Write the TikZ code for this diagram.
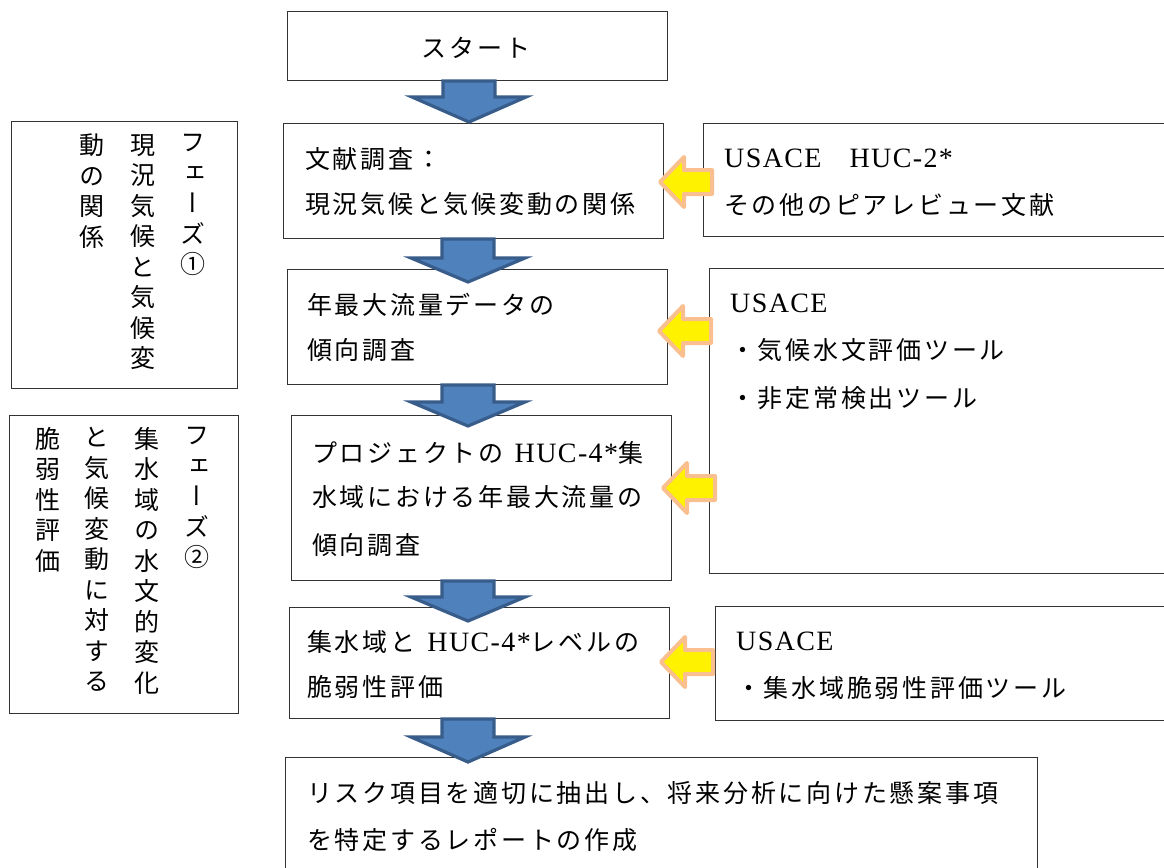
\documentclass[tikz,border=0pt]{standalone}
\usepackage{fontspec}
\newfontfamily\jpn{Noto Sans CJK JP}[LetterSpace=11]
\newfontfamily\jpv{Noto Sans CJK JP}[RawFeature=+vert]
\newfontfamily\latn{Liberation Serif}[LetterSpace=5]
\newcommand{\la}[1]{{\latn\fontsize{28}{30}\selectfont #1}}
\newcommand{\blockdown}[5]{%
  \path[bluearr] (#2-26,#3) -- (#2+26,#3) -- (#2+26,#4) -- (#2+57,#4) -- (#2,#5) -- (#2-57,#4) -- (#2-26,#4) -- cycle;}
\newcommand{\blockleft}[3]{%
  \path[yelarr] (#2+3,#3) -- (#2+27,#3-25) -- (#2+27,#3-12) -- (#2+55,#3-12) -- (#2+55,#3+12) -- (#2+27,#3+12) -- (#2+27,#3+25) -- cycle;}
\begin{document}
\begin{tikzpicture}[x=1pt,y=-1pt,
  box/.style={draw=black!80, line width=1.3pt, inner sep=0pt, anchor=north west, fill=white},
  txt/.style={anchor=base west, inner sep=0pt, font=\jpn\fontsize{25}{30}\selectfont},
  vtxt/.style={anchor=north, inner sep=0pt, align=center, font=\jpv\fontsize{25}{30.5}\selectfont},
  bluearr/.style={fill={rgb,255:red,79;green,129;blue,189}, draw={rgb,255:red,56;green,93;blue,138}, line width=3.2pt, line join=miter},
  yelarr/.style={fill=yellow, draw={rgb,255:red,250;green,191;blue,143}, line width=4pt, line join=round}]
\useasboundingbox (0,0) rectangle (1164,867);
\clip (0,0) rectangle (1164,867);
\fill[white] (0,0) rectangle (1164,867);

% boxes
\node[box, minimum width=380pt, minimum height=69pt] (start) at (287,11) {};
\node[box, minimum width=380pt, minimum height=115pt] (b1) at (283,123) {};
\node[box, minimum width=480pt, minimum height=113pt] (r1) at (703,123) {};
\node[box, minimum width=380pt, minimum height=115pt] (b2) at (287,269) {};
\node[box, minimum width=480pt, minimum height=305pt] (r2) at (709,268) {};
\node[box, minimum width=380pt, minimum height=165pt] (b3) at (291,415) {};
\node[box, minimum width=380pt, minimum height=111pt] (b4) at (289,607) {};
\node[box, minimum width=480pt, minimum height=114pt] (r4) at (715,606) {};
\node[box, minimum width=752pt, minimum height=130pt] (b5) at (285,757) {};
\node[box, minimum width=226pt, minimum height=267pt] (l1) at (11,121) {};
\node[box, minimum width=229pt, minimum height=298pt] (l2) at (9,415) {};

% texts
\node[txt, anchor=base] (start-t) at (476,58) {スタート};
\node[txt] (b1-a) at (305,168.5) {文献調査：};
\node[txt] (b1-b) at (305,213.5) {現況気候と気候変動の関係};
\node[txt] (r1-a) at (724,167.5) {\la{USACE}\hspace{28pt}\la{HUC-2*}};
\node[txt] (r1-b) at (724,214.5) {その他のピアレビュー文献};
\node[txt] (b2-a) at (307,314.5) {年最大流量データの};
\node[txt] (b2-b) at (307,359.5) {傾向調査};
\node[txt] (r2-a) at (730,312.5) {\la{USACE}};
\node[txt] (r2-b) at (730,359.5) {・気候水文評価ツール};
\node[txt] (r2-c) at (730,407.5) {・非定常検出ツール};
\node[txt] (b3-a) at (312,462.5) {プロジェクトの\hspace{11pt}\la{HUC-4*}集};
\node[txt] (b3-b) at (312,506.5) {水域における年最大流量の};
\node[txt] (b3-c) at (312,554.5) {傾向調査};
\node[txt] (b4-a) at (307,651.5) {集水域と\hspace{12pt}\la{HUC-4*}レベルの};
\node[txt] (b4-b) at (307,696.5) {脆弱性評価};
\node[txt] (r4-a) at (736,650.5) {\la{USACE}};
\node[txt] (r4-b) at (736,697.5) {・集水域脆弱性評価ツール};
\node[txt] (b5-a) at (307,802.5) {リスク項目を適切に抽出し、将来分析に向けた懸案事項};
\node[txt] (b5-b) at (307,849.5) {を特定するレポートの作成};

% vertical texts
\node[vtxt] (l1-c1) at (193,134) {フ\\ェ\\ー\\ズ\\①};
\node[vtxt] (l1-c2) at (143,134) {現\\況\\気\\候\\と\\気\\候\\変};
\node[vtxt] (l1-c3) at (92,134) {動\\の\\関\\係};
\node[vtxt] (l2-c1) at (197,427) {フ\\ェ\\ー\\ズ\\②};
\node[vtxt] (l2-c2) at (147,427) {集\\水\\域\\の\\水\\文\\的\\変\\化};
\node[vtxt] (l2-c3) at (97,427) {と\\気\\候\\変\\動\\に\\対\\す\\る};
\node[vtxt] (l2-c4) at (48,427) {脆\\弱\\性\\評\\価};

% blue block arrows
\blockdown{a1}{469}{81}{97}{122}
\blockdown{a2}{468}{239}{258}{282}
\blockdown{a3}{468}{385}{402}{426}
\blockdown{a4}{468}{581}{597}{621}
\blockdown{a5}{468}{719}{737}{762}

% yellow block arrows
\blockleft{y1}{657}{182}
\blockleft{y2}{656}{331}
\blockleft{y3}{660}{488}
\blockleft{y4}{658}{662}
\end{tikzpicture}
\end{document}
